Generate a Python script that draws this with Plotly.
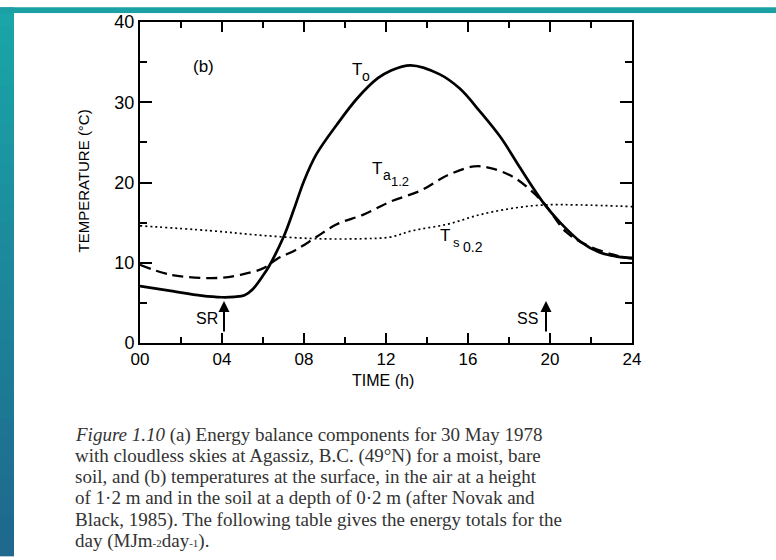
import plotly.graph_objects as go

# ---------------- data ----------------
to_hours = [0, 1.5, 3, 4, 4.6, 5.1, 5.5, 6.0, 6.3, 7.0, 7.5, 8.0, 8.6, 9.6, 10.6,
            11.6, 12.2, 13.2, 14.6, 15.6, 16.6, 17.6, 18.5, 19.7, 20.5, 21.5,
            22.4, 23.2, 24]
to_temp = [7.1, 6.5, 5.9, 5.7, 5.75, 5.95, 6.7, 8.4, 9.6, 13.2, 16.6, 20.2, 23.5,
           27.2, 30.5, 33.0, 33.9, 34.6, 33.5, 31.7, 28.8, 25.6, 22.0, 17.4, 15.0,
           12.6, 11.3, 10.8, 10.6]

ta_hours = [0, 1.5, 3.8, 4.9, 6.0, 6.7, 7.6, 8.6, 9.6, 10.9, 12.2, 13.7, 15.0,
            16.3, 17.1, 18.2, 19.2, 19.8, 20.8, 21.8, 23.1, 24]
ta_temp = [9.75, 8.5, 8.1, 8.5, 9.3, 10.5, 11.6, 13.2, 14.8, 16.0, 17.6, 19.0,
           20.9, 22.0, 21.8, 20.7, 18.7, 17.1, 13.8, 12.2, 11.0, 10.5]

ts_hours = [0, 3.4, 6.0, 8.6, 10.9, 12.2, 13.3, 15.0, 16.6, 18.2, 19.7, 21.5, 24]
ts_temp = [14.6, 14.0, 13.4, 13.0, 13.0, 13.2, 14.0, 14.8, 16.0, 16.8, 17.2,
           17.2, 17.0]

x_tickvals = [0, 4, 8, 12, 16, 20, 24]
x_ticktext = ["00", "04", "08", "12", "16", "20", "24"]
y_tickvals = [0, 10, 20, 30, 40]

caption_lines = [
    "<i>Figure 1.10</i> (a) Energy balance components for 30 May 1978",
    "with cloudless skies at Agassiz, B.C. (49°N) for a moist, bare",
    "soil, and (b) temperatures at the surface, in the air at a height",
    "of 1·2 m and in the soil at a depth of 0·2 m (after Novak and",
    "Black, 1985). The following table gives the energy totals for the",
    "day (MJm<span style='font-size:11px'>-2</span>day<span style='font-size:11px'>-1</span>).",
]

# ---------------- layout geometry ----------------
W, H = 776, 560
ML, MR, MT, MB = 140, 144, 15, 217
PW = W - ML - MR
PH = H - MT - MB


def px_x(p):
    return (p - ML) / PW


def px_y(p):
    return (H - MB - p) / PH


fig = go.Figure()

fig.add_trace(go.Scatter(x=ts_hours, y=ts_temp, mode="lines",
                         line=dict(color="black", width=1.7, dash="2px,3px", shape="spline"),
                         showlegend=False, hoverinfo="skip"))
fig.add_trace(go.Scatter(x=ta_hours, y=ta_temp, mode="lines",
                         line=dict(color="black", width=2.3, dash="11px,6px", shape="spline"),
                         showlegend=False, hoverinfo="skip"))
fig.add_trace(go.Scatter(x=to_hours, y=to_temp, mode="lines",
                         line=dict(color="black", width=2.7, shape="spline"),
                         showlegend=False, hoverinfo="skip"))

shapes = []
# teal background strips (gradient approximated with bands)
n = 28
top_c = (26, 166, 168)
bot_c = (31, 104, 142)
for i in range(n):
    t = i / (n - 1)
    c = tuple(int(top_c[k] + (bot_c[k] - top_c[k]) * t) for k in range(3))
    y0 = H * i / n
    y1 = H * (i + 1) / n + 1
    shapes.append(dict(type="rect", xref="paper", yref="paper",
                       x0=px_x(0), x1=px_x(14), y0=px_y(y1), y1=px_y(y0),
                       fillcolor="rgb(%d,%d,%d)" % c, line=dict(width=0), layer="below"))
shapes.append(dict(type="rect", xref="paper", yref="paper",
                   x0=px_x(0), x1=px_x(W), y0=px_y(6), y1=px_y(0),
                   fillcolor="rgb(27,160,166)", line=dict(width=0), layer="below"))
shapes.append(dict(type="rect", xref="paper", yref="paper",
                   x0=px_x(14), x1=px_x(W), y0=px_y(H), y1=px_y(6),
                   fillcolor="white", line=dict(width=0), layer="below"))

sans = "Liberation Sans, Arial, sans-serif"
ann = []


def txt(x, y, s, size=15):
    ann.append(dict(x=x, y=y, xref="x", yref="y",
                    text=s, showarrow=False, xanchor="center", yanchor="middle",
                    font=dict(family=sans, size=size, color="black")))


def hx(p):
    return (p - ML) / 20.5


def ty(p):
    return (H - MB - p) / 8.2


txt(hx(203), ty(60), "(b)", 17)
txt(hx(357), ty(64), "T", 17)
txt(hx(366), ty(70), "o", 14)
txt(hx(377), ty(165), "T", 17)
txt(hx(387), ty(171), "a", 14)
txt(hx(400), ty(178), "1.2", 13)
txt(hx(445), ty(233), "T", 17)
txt(hx(456), ty(240), "s", 13)
txt(hx(473), ty(245), "0.2", 14)
txt(hx(207), ty(318), "SR", 16)
txt(hx(527), ty(318), "SS", 16)

for xa in (hx(224), hx(546)):
    ann.append(dict(x=xa, y=ty(300), xref="x", yref="y", ax=0, ay=32,
                    text="", showarrow=True, arrowhead=2, arrowsize=1.1,
                    arrowwidth=2, arrowcolor="black"))

# axis titles
ann.append(dict(x=px_x(383), y=px_y(381), xref="paper", yref="paper",
                text="TIME (h)", showarrow=False, xanchor="center", yanchor="middle",
                font=dict(family=sans, size=16, color="black")))
ann.append(dict(x=px_x(84), y=px_y(178), xref="paper", yref="paper",
                text="TEMPERATURE (°C)", showarrow=False, textangle=-90,
                xanchor="center", yanchor="middle",
                font=dict(family=sans, size=15, color="black")))

# caption
for i, line in enumerate(caption_lines):
    ann.append(dict(x=px_x(73), y=px_y(437 + i * 21.6), xref="paper", yref="paper",
                    text=line, showarrow=False, xanchor="left", yanchor="middle",
                    font=dict(family="Liberation Serif, serif", size=19, color="#333333")))

axis_common = dict(showline=True, linecolor="black", linewidth=2, mirror="ticks",
                   ticks="inside", tickcolor="black", tickwidth=2,
                   showgrid=False, zeroline=False)

fig.update_layout(
    width=W, height=H,
    margin=dict(l=ML, r=MR, t=MT, b=MB),
    paper_bgcolor="white", plot_bgcolor="white",
    xaxis=dict(range=[0, 24], tickvals=x_tickvals, ticktext=x_ticktext, ticklen=10,
               tickfont=dict(family=sans, size=17, color="black"),
               minor=dict(dtick=2, tick0=0, ticks="inside", ticklen=6, tickcolor="black", tickwidth=2),
               **axis_common),
    yaxis=dict(range=[0, 40], tickvals=y_tickvals, ticklen=12,
               tickfont=dict(family=sans, size=18, color="black"),
               minor=dict(dtick=5, tick0=0, ticks="inside", ticklen=7, tickcolor="black", tickwidth=2),
               **axis_common),
    shapes=shapes,
    annotations=ann,
    showlegend=False,
)

fig.write_html("out.html")
